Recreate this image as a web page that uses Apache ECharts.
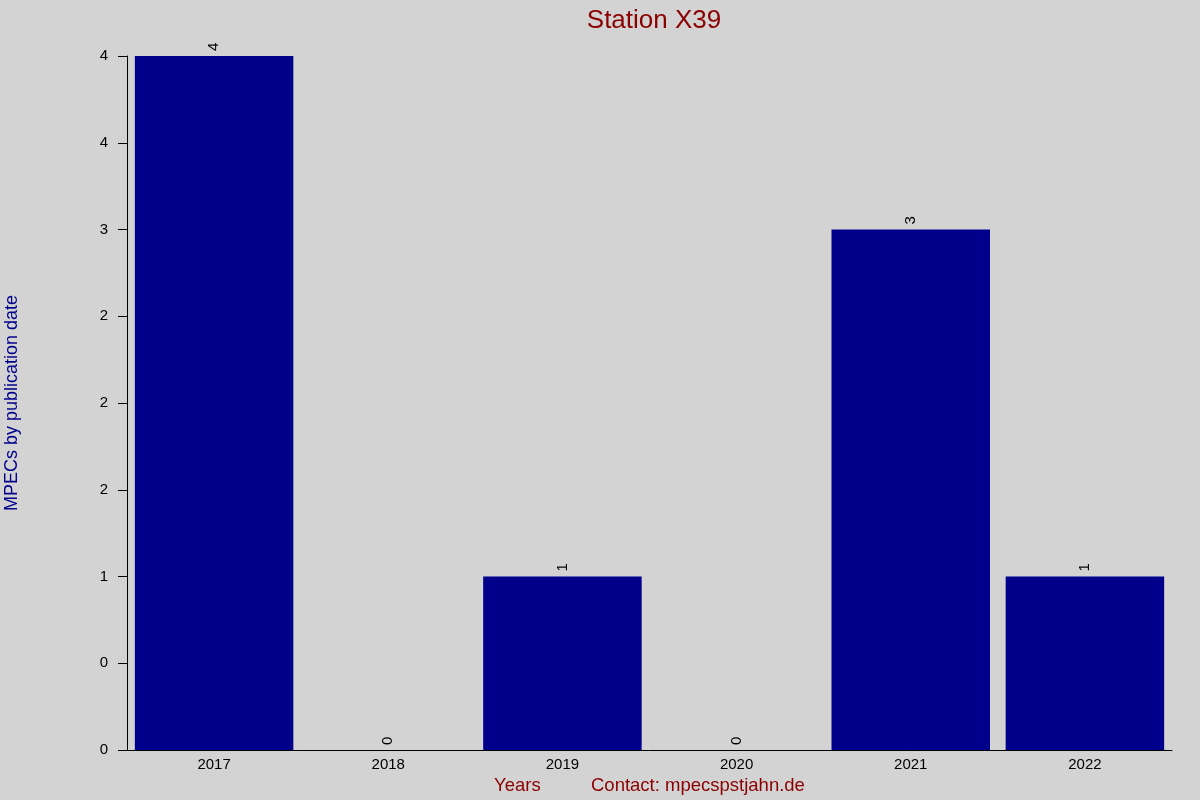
<!DOCTYPE html>
<html lang="en">
<head>
    <meta charset="UTF-8">
    <title>Station X39</title>
    <script src="https://cdn.jsdelivr.net/npm/echarts@6/dist/echarts.min.js"></script>
    <style>
        html, body { margin: 0; padding: 0; background: #d3d3d3; }
        #chart { width: 1200px; height: 800px; }
    </style>
</head>
<body>
    <div id="chart"></div>
    <script>
        // data
        const years = ['2017', '2018', '2019', '2020', '2021', '2022'];
        const mpecCounts = [4, 0, 1, 0, 3, 1];
        // y tick labels as printed (rounded to whole numbers)
        const yTickLabels = ['0', '0', '1', '2', '2', '2', '3', '4', '4'];

        const chart = echarts.init(document.getElementById('chart'));

        const font = 'Liberation Sans, Arial, sans-serif';

        const option = {
            backgroundColor: '#d3d3d3',
            animation: false,
            title: {
                text: 'Station X39',
                left: 649,
                textAlign: 'center',
                top: 3,
                textStyle: { color: '#8b0000', fontSize: 26, fontWeight: 'normal', fontFamily: font }
            },
            grid: { left: 127, right: 28, top: 56, bottom: 50, outerBoundsMode: 'none', containLabel: false },
            xAxis: {
                type: 'category',
                data: years,
                axisLine: { lineStyle: { color: '#000', width: 1 } },
                axisTick: { show: false },
                axisLabel: { color: '#000', fontSize: 15, fontFamily: font, margin: 7 }
            },
            yAxis: {
                type: 'value',
                min: 0,
                max: 4,
                interval: 0.5,
                name: 'MPECs by publication date',
                nameLocation: 'middle',
                nameGap: 106,
                nameTextStyle: { color: '#00008b', fontSize: 18, fontFamily: font },
                axisLine: { show: true, lineStyle: { color: '#000', width: 1 } },
                axisTick: { show: true, length: 9, lineStyle: { color: '#000' } },
                splitLine: { show: false },
                axisLabel: {
                    color: '#000', fontSize: 15, fontFamily: font, margin: 19,
                    formatter: (v) => yTickLabels[Math.round(v / 0.5)]
                }
            },
            series: [{
                type: 'bar',
                data: mpecCounts,
                barCategoryGap: '9%',
                itemStyle: { color: '#00008b' },
                label: {
                    show: true,
                    position: 'top',
                    rotate: 90,
                    align: 'left',
                    verticalAlign: 'middle',
                    distance: 5,
                    color: '#000',
                    fontSize: 15,
                    fontFamily: font
                }
            }],
            graphic: [
                {
                    type: 'text',
                    left: 494,
                    top: 776,
                    style: { text: 'Years', fill: '#8b0000', fontSize: 18.5, fontFamily: font }
                },
                {
                    type: 'text',
                    left: 591,
                    top: 776,
                    style: { text: 'Contact: mpecspstjahn.de', fill: '#8b0000', fontSize: 18.5, fontFamily: font }
                }
            ]
        };

        chart.setOption(option);
    </script>
</body>
</html>
